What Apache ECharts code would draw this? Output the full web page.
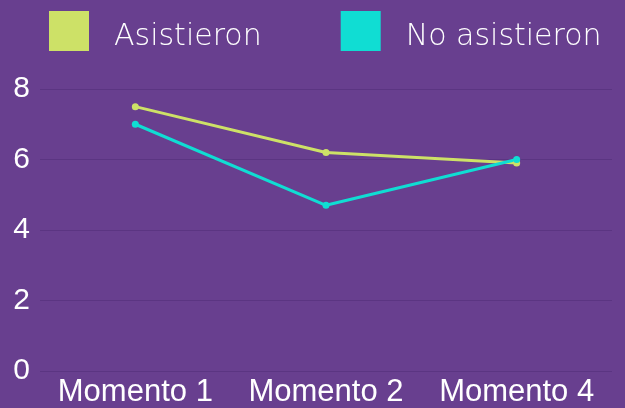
<!DOCTYPE html>
<html>
<head>
<meta charset="utf-8">
<script src="https://cdn.jsdelivr.net/npm/echarts@6/dist/echarts.min.js"></script>
<style>
  html, body { margin: 0; padding: 0; background: #683f8f; }
  #chart { width: 625px; height: 408px; }
</style>
</head>
<body>
<div id="chart"></div>
<script>
var categories = ['Momento 1', 'Momento 2', 'Momento 4'];
var asistieron = [7.5, 6.2, 5.9];
var noAsistieron = [7.0, 4.7, 6.0];

var chart = echarts.init(document.getElementById('chart'));
chart.setOption({
  backgroundColor: '#683f8f',
  animation: false,
  legend: {
    left: 44,
    top: 6,
    itemWidth: 40,
    itemHeight: 40,
    itemGap: 79,
    icon: 'rect',
    formatter: function (name) {
      return '{t|' + name + '}';
    },
    textStyle: {
      color: '#ffffff',
      fontFamily: 'DejaVu Sans',
      fontWeight: 300,
      fontSize: 30,
      rich: {
        t: {
          color: '#ffffff',
          fontFamily: 'DejaVu Sans',
          fontWeight: 300,
          fontSize: 30,
          padding: [12, 0, 0, 20]
        }
      }
    },
    data: ['Asistieron', 'No asistieron']
  },
  grid: {
    left: 40,
    right: 13,
    top: 89,
    bottom: 35
  },
  xAxis: {
    type: 'category',
    data: categories,
    axisLine: { show: false },
    axisTick: { show: false },
    axisLabel: {
      interval: 0,
      color: '#ffffff',
      fontFamily: 'Liberation Sans',
      fontSize: 31,
      margin: 6
    }
  },
  yAxis: {
    type: 'value',
    min: 0,
    max: 8,
    interval: 2,
    axisLine: { show: false },
    axisTick: { show: false },
    splitLine: { lineStyle: { color: '#5b3582', width: 1 } },
    axisLabel: {
      color: '#ffffff',
      fontFamily: 'Liberation Sans',
      fontSize: 30,
      margin: 10,
      padding: [5, 0, 0, 0]
    }
  },
  series: [
    {
      name: 'Asistieron',
      type: 'line',
      data: asistieron,
      color: '#cde167',
      symbol: 'circle',
      symbolSize: 7,
      lineStyle: { width: 3 }
    },
    {
      name: 'No asistieron',
      type: 'line',
      data: noAsistieron,
      color: '#10ddd3',
      symbol: 'circle',
      symbolSize: 7,
      lineStyle: { width: 3 }
    }
  ]
});
</script>
</body>
</html>
